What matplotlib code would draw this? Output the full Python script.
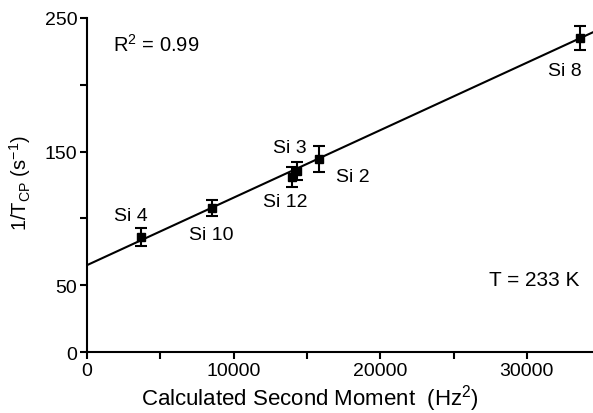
import numpy as np
import matplotlib
matplotlib.use('Agg')
import matplotlib.pyplot as plt

plt.rcParams['font.family'] = ['Liberation Sans', 'DejaVu Sans']
plt.rcParams['mathtext.fontset'] = 'custom'
plt.rcParams['mathtext.rm'] = 'Liberation Sans'
plt.rcParams['mathtext.it'] = 'Liberation Sans'
plt.rcParams['mathtext.default'] = 'regular'

# datos
nombres = ['Si 4', 'Si 10', 'Si 12', 'Si 3', 'Si 2', 'Si 8']
momento = [3700, 8550, 14000, 14350, 15800, 33650]
tasa = [86, 108, 131, 135.5, 144.5, 235]
error = [6.7, 6, 7.5, 7, 10, 9]

# recta de ajuste
ordenada = 65.0
pendiente = 0.00505

# posicion de cada etiqueta (x, y)
etiqueta_x = [2970, 8470, 13520, 13830, 18130, 32580]
etiqueta_y = [102, 88.3, 112.6, 153, 131, 211]

fig = plt.figure(figsize=(5.93, 4.14), dpi=100)
ax = fig.add_axes([0.1467, 0.1473, 0.853, 0.807])

xs = np.array([0, 34500])
ax.plot(xs, ordenada + pendiente * xs, color='black', lw=1.5, zorder=2)
ax.errorbar(momento, tasa, yerr=error, fmt='s', color='black', ms=6,
            capsize=4, elinewidth=1.5, capthick=1.5, zorder=3)

for n, lx, ly in zip(nombres, etiqueta_x, etiqueta_y):
    ax.text(lx, ly, n, fontsize=14, ha='center', va='center')

ax.text(1760, 230.5, 'R$^2$ = 0.99', fontsize=14.5, va='center')
ax.text(27390, 54, 'T = 233 K', fontsize=15, va='center')

ax.set_xlim(0, 34500)
ax.set_ylim(0, 250)
ax.set_xticks(range(0, 35000, 5000))
ax.set_xticklabels(['0', '', '10000', '', '20000', '', '30000'])
ax.set_yticks([0, 50, 100, 150, 200, 250])
ax.set_yticklabels(['0', '50', '', '150', '', '250'])
ax.tick_params(labelsize=14, length=5, width=1.5, direction='out', pad=2)

ax.spines['top'].set_visible(False)
ax.spines['right'].set_visible(False)
ax.spines['left'].set_linewidth(1.5)
ax.spines['bottom'].set_linewidth(1.5)
ax.patch.set_alpha(0)

ax.set_xlabel('Calculated Second Moment  (Hz$^2$)', fontsize=16)
ax.xaxis.set_label_coords(0.44, -0.09)
ax.set_ylabel('1/T$_{CP}$ (s$^{-1}$)', fontsize=14.5)
ax.yaxis.set_label_coords(-0.107, 0.51)

plt.savefig('out.png', dpi=100)
plt.close()
